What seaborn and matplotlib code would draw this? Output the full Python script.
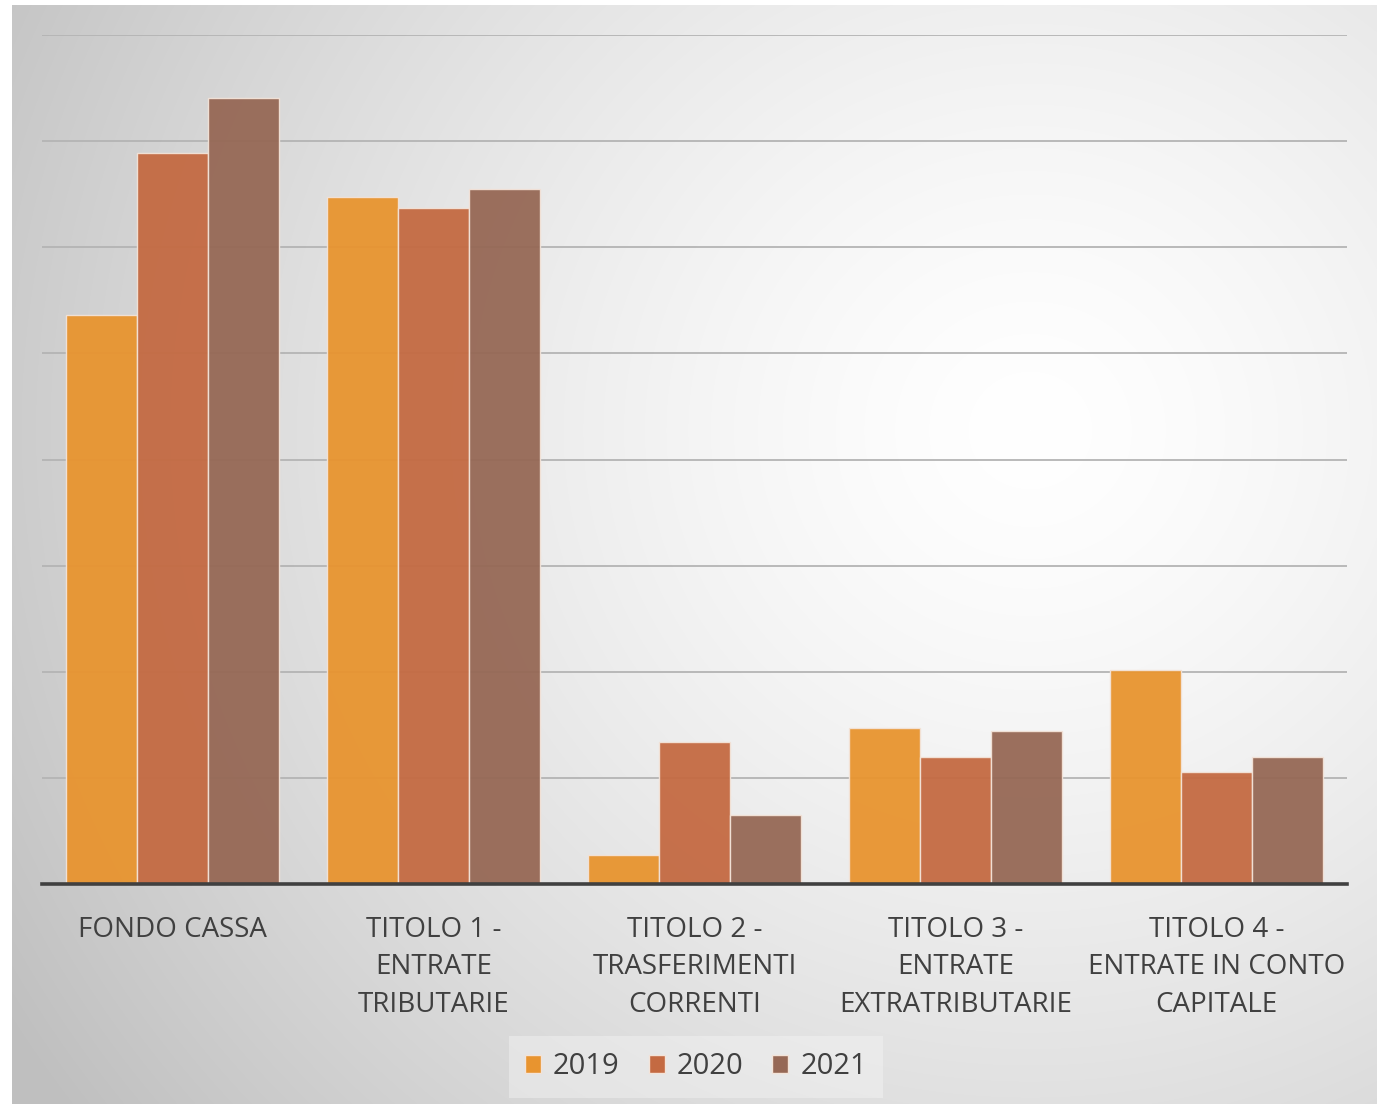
import numpy as np
import pandas as pd
import matplotlib
matplotlib.use("Agg")
import matplotlib.pyplot as plt
from matplotlib.patches import Patch
import seaborn as sns

categories = ["FONDO CASSA",
              "TITOLO 1 -\nENTRATE\nTRIBUTARIE",
              "TITOLO 2 -\nTRASFERIMENTI\nCORRENTI",
              "TITOLO 3 -\nENTRATE\nEXTRATRIBUTARIE",
              "TITOLO 4 -\nENTRATE IN CONTO\nCAPITALE"]
years = ["2019", "2020", "2021"]
v2019 = [5.36, 6.47, 0.27, 1.47, 2.02]
v2020 = [6.89, 6.37, 1.34, 1.20, 1.06]
v2021 = [7.41, 6.55, 0.65, 1.44, 1.20]
colors = ["#E8942F", "#C46A42", "#966855"]

rows = []
for y, vals in zip(years, [v2019, v2020, v2021]):
    for c, v in zip(categories, vals):
        rows.append({"cat": c, "year": y, "val": v})
df = pd.DataFrame(rows)

sns.set_theme(style="white")
plt.rcParams['font.family'] = ['Open Sans', 'DejaVu Sans']

W, H = 1384, 1106
fig = plt.figure(figsize=(W / 100, H / 100), dpi=100)

# background radial gradient
bg = np.ones((H, W, 3))
yy, xx = np.mgrid[0:H, 0:W]
cx, cy = 1030, 430
r = np.sqrt((xx - cx) ** 2 + ((yy - cy) * 1.05) ** 2) / 1200.0
g = 1.0 - 0.25 * np.clip(r, 0, 1) ** 1.4
x0, x1, y0, y1 = 12, 1377, 5, 1104
bg[y0:y1, x0:x1, :] = g[y0:y1, x0:x1, None]
bax = fig.add_axes([0, 0, 1, 1])
bax.imshow(bg, aspect="auto", interpolation="bilinear")
bax.axis("off")

left, right, top, bottom = 42, 1347, 35, 884
ax = fig.add_axes([left / W, 1 - bottom / H, (right - left) / W, (bottom - top) / H])
ax.patch.set_alpha(0)
sns.barplot(data=df, x="cat", y="val", hue="year", palette=colors,
            width=0.816, ax=ax, legend=False, saturation=1,
            edgecolor="#f3e3d8", linewidth=1.0, alpha=0.95)
ax.set_ylim(0, 8)
ax.set_xlim(-0.5, 4.5)
ax.set_yticks(np.arange(0, 9, 1))
ax.set_yticklabels([])
ax.yaxis.grid(True, color="#b4b4b4", linewidth=1.3)
ax.set_axisbelow(True)
for s in ["top", "right", "left"]:
    ax.spines[s].set_visible(False)
ax.spines["bottom"].set_color("#404040")
ax.spines["bottom"].set_linewidth(2.6)
ax.tick_params(axis="y", length=0)
ax.tick_params(axis="x", length=0, pad=23, labelsize=20, labelcolor="#404040")
for t in ax.get_xticklabels():
    t.set_linespacing(1.45)
ax.set_xlabel("")
ax.set_ylabel("")

handles = [Patch(facecolor=c, edgecolor="#f3e3d8", linewidth=1.0, label=y) for c, y in zip(colors, years)]
leg = fig.legend(handles=handles, loc="center", bbox_to_anchor=(696 / W, 1 - 1067 / H),
                 ncol=3, fontsize=21, frameon=True, handlelength=0.55, handleheight=0.55,
                 handletextpad=0.4, columnspacing=1.0, borderpad=0.25)
leg.get_frame().set_facecolor("#f4f4f4")
leg.get_frame().set_alpha(0.45)
leg.get_frame().set_edgecolor("none")
leg.get_frame().set_boxstyle("square")
for t in leg.get_texts():
    t.set_color("#404040")

fig.savefig("out.png", dpi=100)
